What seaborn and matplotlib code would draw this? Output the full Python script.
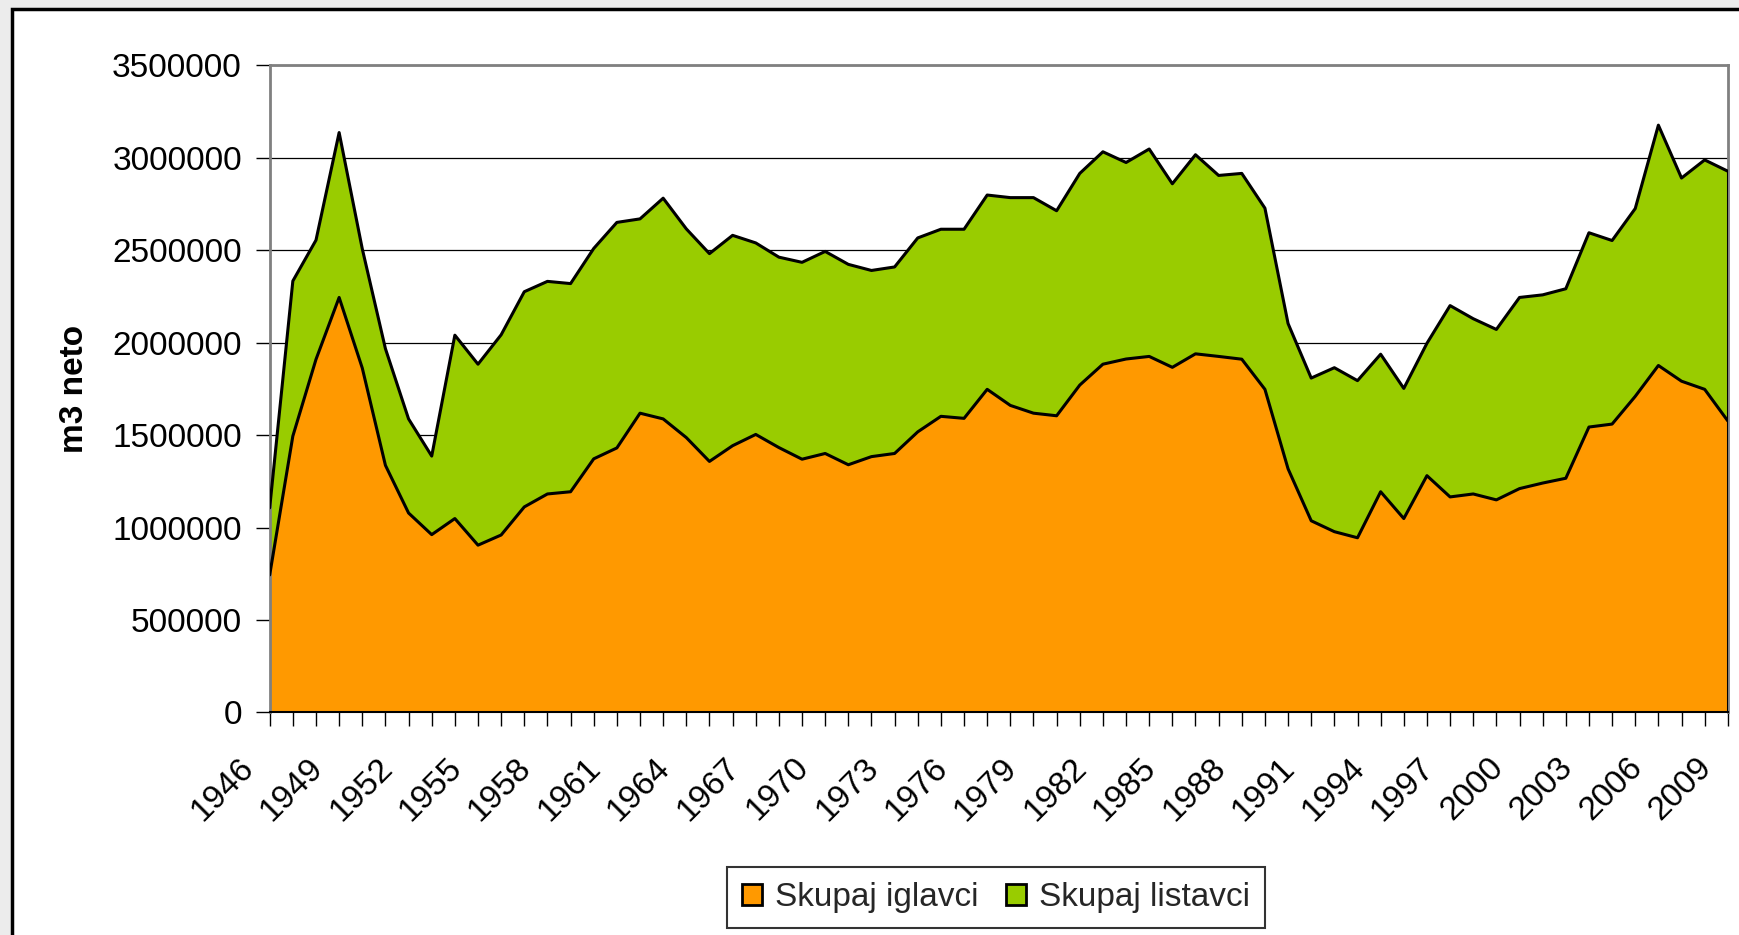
import numpy as np
import pandas as pd
import seaborn as sns
import matplotlib.pyplot as plt
from matplotlib.patches import Rectangle, Patch
from matplotlib.ticker import MultipleLocator
from matplotlib.transforms import ScaledTranslation

# values (m3 neto)
years = list(range(1946, 2010))
iglavci = [744000, 1495000, 1910000, 2245000, 1863000, 1337000, 1079000, 962000,
           1049000, 905000, 960000, 1112000, 1182000, 1194000, 1372000, 1431000,
           1619000, 1588000, 1487000, 1358000, 1443000, 1504000, 1433000, 1370000,
           1401000, 1340000, 1384000, 1401000, 1518000, 1602000, 1591000, 1748000,
           1661000, 1619000, 1605000, 1771000, 1884000, 1912000, 1926000, 1867000,
           1940000, 1926000, 1911000, 1748000, 1318000, 1037000, 978000, 945000,
           1194000, 1049000, 1281000, 1166000, 1182000, 1150000, 1211000, 1241000,
           1267000, 1544000, 1560000, 1710000, 1877000, 1792000, 1748000, 1577000]
listavci = [363000, 839000, 645000, 892000, 645000, 631000, 509000, 425000,
            992000, 979000, 1083000, 1164000, 1150000, 1126000, 1138000, 1220000,
            1051000, 1194000, 1129000, 1124000, 1138000, 1036000, 1030000, 1065000,
            1093000, 1084000, 1007000, 1009000, 1049000, 1012000, 1023000, 1051000,
            1124000, 1166000, 1109000, 1145000, 1149000, 1063000, 1122000, 993000,
            1077000, 979000, 1005000, 980000, 786000, 772000, 887000, 850000,
            744000, 704000, 716000, 1035000, 948000, 922000, 1034000, 1018000,
            1025000, 1051000, 993000, 1016000, 1300000, 1099000, 1241000, 1351000]
tick_years = years[::3]
y_ticks = list(range(0, 3500001, 500000))
series_names = ["Skupaj iglavci", "Skupaj listavci"]
colors = ["#FF9900", "#99CC00"]

df = pd.DataFrame({"Godina": years, "Skupaj iglavci": iglavci, "Skupaj listavci": listavci})
df["Ukupno"] = df["Skupaj iglavci"] + df["Skupaj listavci"]

sns.set_theme(style="white")
plt.rcParams["font.family"] = ["Liberation Sans", "DejaVu Sans"]

fig = plt.figure(figsize=(17.4, 9.35), dpi=100)
fig.patch.set_facecolor("#ececec")
frame = Rectangle((0.0069, -0.05), 1.1, 1.0404, transform=fig.transFigure,
                  facecolor="white", edgecolor="black", lw=2.5, zorder=-10)
fig.patches.append(frame)
ax = fig.add_axes([0.155, 0.238, 0.838, 0.692])
ax.set_zorder(1)
ax.patch.set_alpha(0)

# stacked areas
ax.fill_between(df["Godina"], 0, df["Skupaj iglavci"], color=colors[0], lw=0, zorder=2)
ax.fill_between(df["Godina"], df["Skupaj iglavci"], df["Ukupno"], color=colors[1], lw=0, zorder=2)
sns.lineplot(data=df, x="Godina", y="Skupaj iglavci", color="black", lw=2.2, ax=ax, zorder=3)
sns.lineplot(data=df, x="Godina", y="Ukupno", color="black", lw=2.2, ax=ax, zorder=3)
ax.plot([years[-1], years[-1]], [0, df["Ukupno"].iloc[-1]], color="black", lw=2.2, zorder=3)

ax.set_xlim(years[0], years[-1])
ax.set_ylim(0, 3500000)
ax.set_yticks(y_ticks)
ax.set_yticklabels([str(v) for v in y_ticks])
ax.set_xticks(tick_years)
ax.set_xticklabels([str(y) for y in tick_years], rotation=45, ha="right",
                   rotation_mode="anchor")
ax.xaxis.set_minor_locator(MultipleLocator(1))
ax.yaxis.grid(True, color="black", lw=0.9)
ax.set_axisbelow(True)

ax.tick_params(axis="both", which="both", direction="out", length=10, width=1,
               color="black", bottom=True, left=True, labelsize=24, labelcolor="black")
ax.tick_params(axis="y", pad=10)
ax.tick_params(axis="x", pad=18.5)
for lab in ax.get_xticklabels():
    lab.set_transform(lab.get_transform() + ScaledTranslation(-0.32, 0, fig.dpi_scale_trans))

for side in ["top", "right", "left"]:
    ax.spines[side].set_color("#808080")
    ax.spines[side].set_linewidth(2)
ax.spines["bottom"].set_color("black")
ax.spines["bottom"].set_linewidth(1.5)

ax.set_xlabel("")
ax.set_ylabel("m3 neto", fontsize=24, fontweight="bold", color="black")
ax.yaxis.set_label_coords(-0.123, 0.5)

handles = [Patch(facecolor=c, edgecolor="black", lw=2) for c in colors]
leg = fig.legend(handles, series_names, loc="center", bbox_to_anchor=(0.5724, 0.0396),
                 bbox_transform=fig.transFigure, ncol=2, fontsize=24, frameon=True,
                 fancybox=False, edgecolor="black", handlelength=0.6, handleheight=0.6,
                 handletextpad=0.4, columnspacing=0.8, borderpad=0.45)
leg.get_frame().set_linewidth(1.5)

fig.savefig("out.png", dpi=100)
